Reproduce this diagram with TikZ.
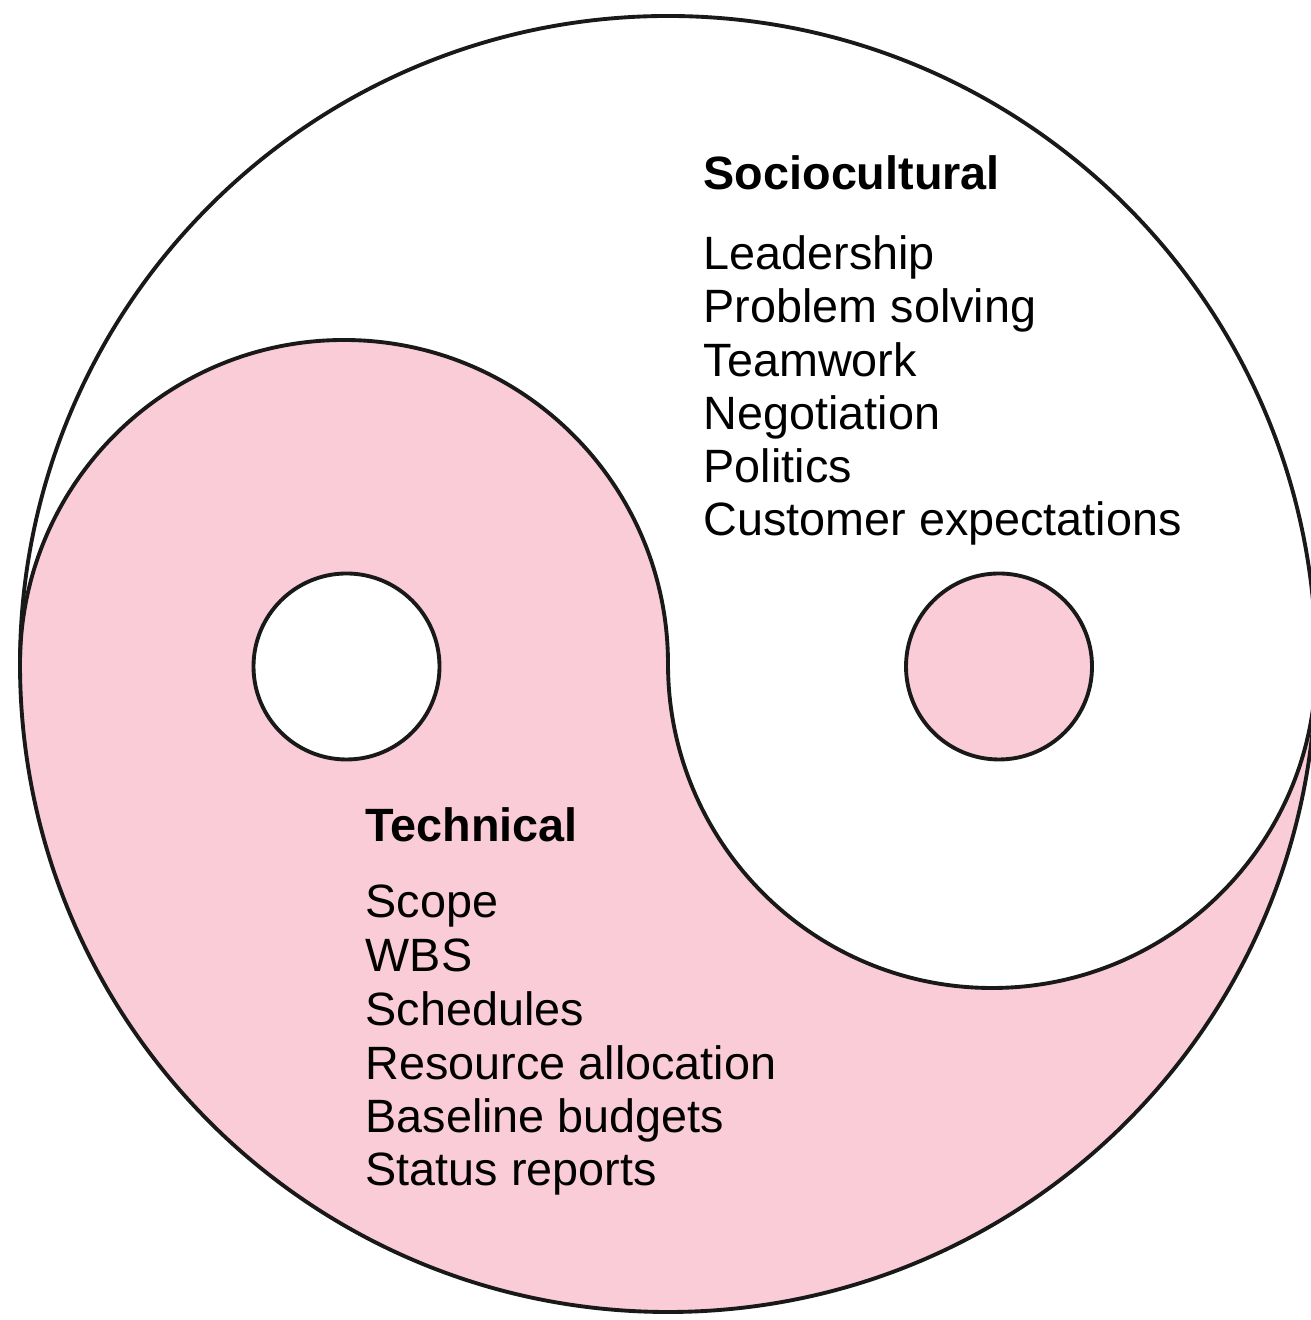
\documentclass[tikz,border=0pt]{standalone}
\usepackage{fontspec}
\setmainfont{Liberation Sans}
\definecolor{yinpink}{RGB}{250,204,216}

\begin{document}
\begin{tikzpicture}[
        outline/.style={draw=black!90, line width=1.1pt},
        dot/.style={circle, outline, minimum size=1.86 cm, inner sep=0pt},
        label_head/.style={anchor=base west, inner sep=0pt, font=\fontsize{13.3pt}{15pt}\selectfont\bfseries},
        label_item/.style={anchor=base west, inner sep=0pt, font=\fontsize{13.3pt}{15pt}\selectfont}
    ]
	\useasboundingbox (0,0) rectangle (13.10,13.20);
	\coordinate (centre) at (6.68,6.56);
	\coordinate (left_end) at (0.20,6.56);
	% technical half
	\fill[yinpink] (left_end) arc[start angle=180, end angle=0, radius=3.24]
		arc[start angle=180, end angle=360, radius=3.24]
		arc[start angle=0, end angle=-180, radius=6.48] -- cycle;
	\draw[outline] (left_end) arc[start angle=180, end angle=0, radius=3.24]
		arc[start angle=180, end angle=360, radius=3.24];
	\draw[outline] (centre) circle[radius=6.48];
	\node[dot, fill=white] (dot_a) at (3.465,6.535) {};
	\node[dot, fill=yinpink] (dot_b) at (9.99,6.535) {};

	\node[label_head] (socio) at (7.03,11.30) {Sociocultural};
	\node[label_item] (s_1) at (7.03,10.50) {Leadership};
	\node[label_item] (s_2) at (7.03,9.97) {Problem solving};
	\node[label_item] (s_3) at (7.03,9.43) {Teamwork};
	\node[label_item] (s_4) at (7.03,8.90) {Negotiation};
	\node[label_item] (s_5) at (7.03,8.37) {Politics};
	\node[label_item] (s_6) at (7.03,7.84) {Customer expectations};

	\node[label_head] (tech) at (3.65,4.78) {Technical};
	\node[label_item] (t_1) at (3.65,4.02) {Scope};
	\node[label_item] (t_2) at (3.65,3.48) {WBS};
	\node[label_item] (t_3) at (3.65,2.94) {Schedules};
	\node[label_item] (t_4) at (3.65,2.40) {Resource allocation};
	\node[label_item] (t_5) at (3.65,1.87) {Baseline budgets};
	\node[label_item] (t_6) at (3.65,1.34) {Status reports};
    \end{tikzpicture}
\end{document}
